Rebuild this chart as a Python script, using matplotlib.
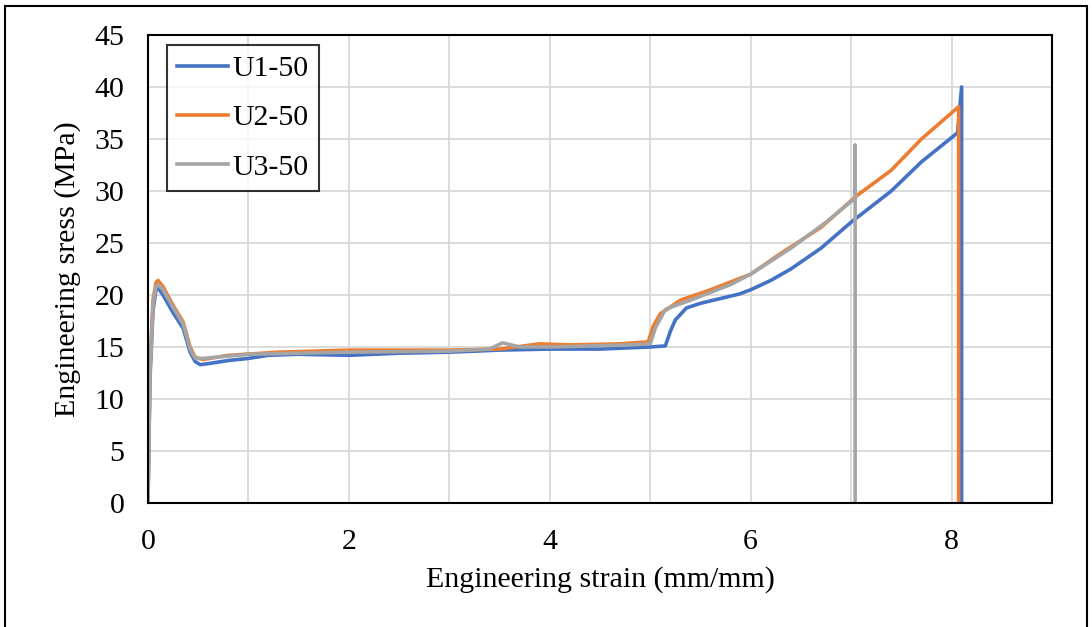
import matplotlib
matplotlib.use("Agg")
import matplotlib.pyplot as plt
from matplotlib.patches import Rectangle

plt.rcParams['font.family'] = ['Liberation Serif', 'DejaVu Serif']

# U1-50 (blue)
u1_strain = [0.0, 0.02, 0.05, 0.08, 0.10, 0.15, 0.25, 0.35, 0.42, 0.47, 0.52, 0.6, 0.8, 1.0, 1.2, 1.5, 2.0, 2.5, 3.0, 3.5, 4.0, 4.5, 5.0, 5.15, 5.2, 5.25, 5.36, 5.5, 5.89, 6.0, 6.2, 6.4, 6.7, 7.0, 7.4, 7.7, 8.06, 8.1, 8.1]
u1_stress = [0.0, 12.0, 18.5, 20.5, 20.7, 20.0, 18.3, 16.8, 14.5, 13.6, 13.3, 13.4, 13.7, 13.9, 14.2, 14.3, 14.2, 14.4, 14.5, 14.7, 14.8, 14.8, 15.0, 15.1, 16.5, 17.6, 18.75, 19.2, 20.1, 20.5, 21.4, 22.5, 24.5, 27.0, 30.0, 32.8, 35.6, 40.0, 0.0]

# U2-50 (orange)
u2_strain = [0.0, 0.02, 0.05, 0.08, 0.10, 0.15, 0.25, 0.35, 0.42, 0.47, 0.55, 0.8, 1.3, 2.0, 2.5, 3.0, 3.5, 3.9, 4.2, 4.7, 4.98, 5.03, 5.1, 5.15, 5.3, 5.6, 6.0, 6.3, 6.7, 7.05, 7.4, 7.7, 8.07, 8.07]
u2_stress = [0.0, 13.0, 19.5, 21.2, 21.4, 20.8, 19.0, 17.4, 15.0, 14.0, 13.8, 14.2, 14.5, 14.7, 14.7, 14.7, 14.8, 15.3, 15.2, 15.3, 15.5, 17.0, 18.2, 18.5, 19.5, 20.5, 22.0, 24.0, 26.5, 29.5, 32.0, 35.0, 38.1, 0.0]

# U3-50 (gray)
u3_strain = [0.0, 0.02, 0.05, 0.08, 0.10, 0.15, 0.25, 0.35, 0.42, 0.47, 0.55, 1.0, 2.0, 3.0, 3.4, 3.53, 3.7, 4.0, 4.8, 5.0, 5.05, 5.15, 5.2, 5.4, 5.8, 6.0, 6.4, 6.75, 7.04, 7.04, 7.04]
u3_stress = [0.0, 12.5, 19.0, 20.8, 21.0, 20.5, 18.8, 17.2, 14.8, 13.9, 13.9, 14.3, 14.5, 14.6, 14.8, 15.4, 15.0, 15.0, 15.2, 15.3, 16.8, 18.6, 18.8, 19.5, 21.0, 22.0, 24.5, 27.0, 29.3, 34.4, 0.0]

series = [("U1-50", u1_strain, u1_stress, "#4472C4"),
          ("U2-50", u2_strain, u2_stress, "#ED7D31"),
          ("U3-50", u3_strain, u3_stress, "#A5A5A5")]

xticks = [0, 2, 4, 6, 8]
yticks = [0, 5, 10, 15, 20, 25, 30, 35, 40, 45]

fs = 21.5
fig = plt.figure(figsize=(10.92, 6.27), dpi=100)
ax = fig.add_axes([0.1355, 0.1978, 0.8279, 0.7464])

for name, x, y, c in series:
    ax.plot(x, y, color=c, lw=2.6, label=name, solid_joinstyle='round')

ax.set_xlim(0, 9)
ax.set_ylim(0, 45)
ax.set_xticks(xticks)
ax.set_xticks(range(0, 10), minor=True)
ax.set_yticks(yticks)
ax.grid(True, which='both', axis='x', color='#D9D9D9', lw=1.3)
ax.grid(True, which='major', axis='y', color='#D9D9D9', lw=1.3)
ax.set_axisbelow(True)
ax.tick_params(axis='both', which='both', length=0, labelsize=fs)
ax.tick_params(axis='y', pad=17)
ax.tick_params(axis='x', pad=19)
for s in ax.spines.values():
    s.set_color('black')
    s.set_linewidth(1.5)

ax.set_xlabel("Engineering strain (mm/mm)", fontsize=fs, labelpad=8)
ax.set_ylabel("Engineering sress (MPa)", fontsize=fs, labelpad=10)

leg = ax.legend(loc='upper left', bbox_to_anchor=(0.021, 0.979), borderaxespad=0,
                fontsize=fs, frameon=True, fancybox=False, handlelength=1.7,
                handletextpad=0.15, borderpad=0.35, labelspacing=0.75)
leg.get_frame().set_edgecolor('black')
leg.get_frame().set_linewidth(1.5)

fig.patches.append(Rectangle((0.005, -0.01), 0.99, 1.0, transform=fig.transFigure,
                             fill=False, edgecolor='black', lw=1.5))

fig.savefig("out.png", dpi=100)
